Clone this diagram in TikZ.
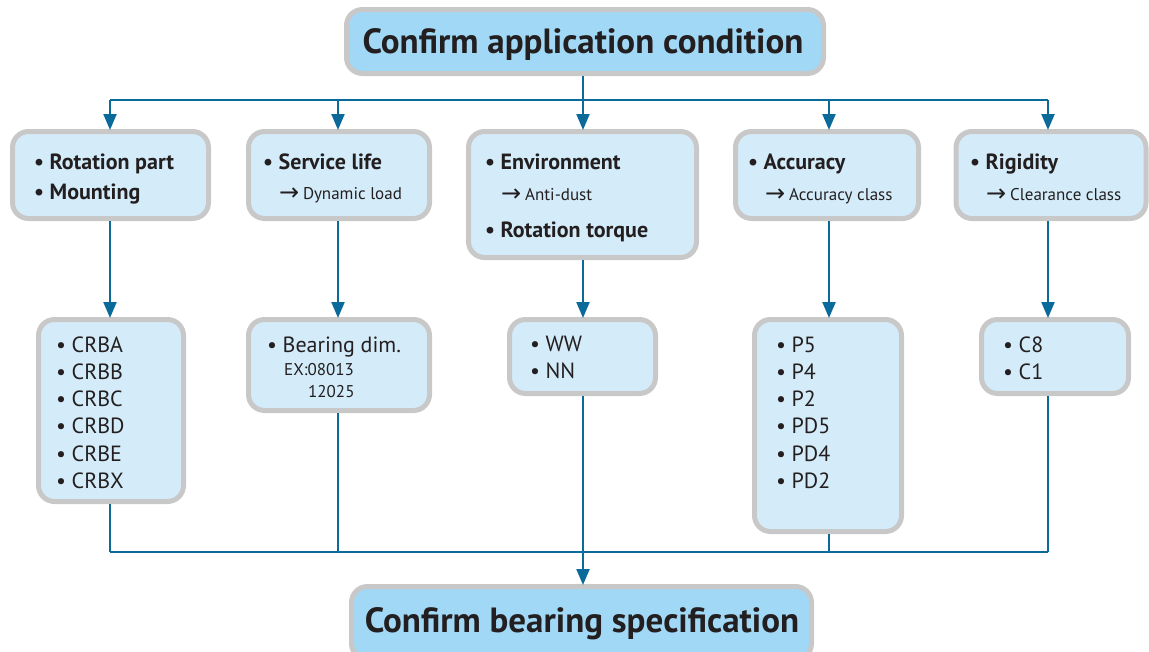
\documentclass[tikz,border=0pt]{standalone}
\usepackage{fontspec}
\setmainfont{PT Sans}
\newfontfamily\arrowfont{DejaVu Sans}
\usetikzlibrary{arrows.meta}
\definecolor{linblue}{HTML}{0A6A99}
\definecolor{boxgray}{HTML}{C8C8C8}
\definecolor{lightfill}{HTML}{D4ECF9}
\definecolor{titlefill}{HTML}{A0D8F5}
\definecolor{txt}{HTML}{231F20}
\newcommand\bl[1]{\makebox[15.5pt][l]{\textbullet}#1}
\newcommand\ar[1]{\makebox[24pt][l]{\raisebox{-1.5pt}{\arrowfont\fontsize{24}{24}\selectfont →}}#1}
\begin{document}
\begin{tikzpicture}[x=1pt,y=-1pt,
 box/.style={draw=boxgray, line width=5pt, rounded corners=16pt, fill=lightfill, inner sep=0pt},
 titlebox/.style={box, fill=titlefill},
 link/.style={draw=linblue, line width=2.2pt},
 arr/.style={link, -{Triangle[width=13pt,length=16pt]}, shorten >=-1pt},
 t/.style={anchor=base west, inner sep=0pt, text=txt, font=\fontsize{22}{24}\selectfont},
 tb/.style={t, font=\fontsize{22}{24}\selectfont\bfseries},
 ts/.style={t, font=\fontsize{17}{19}\selectfont},
 ttl/.style={anchor=base, inner sep=0pt, text=txt, font=\fontsize{35}{38}\selectfont\bfseries}
]
\useasboundingbox (0,0) rectangle (1149,651);
% boxes
\node[titlebox, minimum width=477pt, minimum height=64pt] (top) at (585,41.5) {};
\node[titlebox, minimum width=460pt, minimum height=73pt] (bot) at (581.5,623) {};

\node[box, minimum width=196pt, minimum height=87pt] (r1a) at (110.5,175) {};
\node[box, minimum width=181pt, minimum height=87pt] (r1b) at (339,175) {};
\node[box, minimum width=228pt, minimum height=126pt] (r1c) at (582.5,194.5) {};
\node[box, minimum width=183pt, minimum height=87pt] (r1d) at (827,175) {};
\node[box, minimum width=190pt, minimum height=87pt] (r1e) at (1051,175) {};

\node[box, minimum width=145pt, minimum height=182pt] (r2a) at (111,410.5) {};
\node[box, minimum width=181pt, minimum height=91pt] (r2b) at (339,365) {};
\node[box, minimum width=146pt, minimum height=74pt] (r2c) at (582.5,356.5) {};
\node[box, minimum width=147pt, minimum height=212pt] (r2d) at (828,425.5) {};
\node[box, minimum width=147pt, minimum height=74pt] (r2e) at (1055,356.5) {};

% texts
\node[ttl] (ttop) at (583,53) {Confirm application condition};
\node[ttl] (tbot) at (582,632) {Confirm bearing specification};

\node[tb] (a1) at (34,169) {\bl{Rotation part}};
\node[tb] (a2) at (34,199) {\bl{Mounting}};
\node[tb] (b1) at (263,169) {\bl{Service life}};
\node[ts] (b2) at (279,199) {\ar{Dynamic load}};
\node[tb] (c1) at (485,169) {\bl{Environment}};
\node[ts] (c2) at (501,200) {\ar{Anti-dust}};
\node[tb] (c3) at (485,237) {\bl{Rotation torque}};
\node[tb] (d1) at (748,169) {\bl{Accuracy}};
\node[ts] (d2) at (765,200) {\ar{Accuracy class}};
\node[tb] (e1) at (970,169) {\bl{Rigidity}};
\node[ts] (e2) at (986,200) {\ar{Clearance class}};

\foreach \s/\n [count=\i from 0] in {CRBA/ga,CRBB/gb,CRBC/gc,CRBD/gd,CRBE/ge,CRBX/gf}
  \node[t] (\n) at (56,352+27.3*\i) {\bl{\s}};
\node[t] (h1) at (267,352) {\bl{Bearing dim.}};
\node[ts] (h2) at (284,375) {EX:08013};
\node[ts] (h3) at (308,397) {12025};
\node[t] (k1) at (530,351) {\bl{WW}};
\node[t] (k2) at (530,378) {\bl{NN}};
\foreach \s/\n [count=\i from 0] in {P5/pa,P4/pb,P2/pc,PD5/pd,PD4/pe,PD2/pf}
  \node[t] (\n) at (776,352+27.3*\i) {\bl{\s}};
\node[t] (m1) at (1003,352) {\bl{C8}};
\node[t] (m2) at (1003,379) {\bl{C1}};

% connectors
\coordinate (xa) at (110,0);
\coordinate (xb) at (338,0);
\coordinate (xc) at (583,0);
\coordinate (xd) at (829,0);
\coordinate (xe) at (1048,0);
\coordinate (hy) at (0,100);
\coordinate (ly) at (0,552);

\draw[link] (xc |- top.south) -- (xc |- hy);
\draw[link] (xa |- hy) -- (xe |- hy);
\foreach \x/\b in {xa/r1a,xb/r1b,xc/r1c,xd/r1d,xe/r1e}
  \draw[arr] (\x |- hy) -- (\x |- \b.north);
\draw[arr] (xa |- r1a.south) -- (xa |- r2a.north);
\draw[arr] (xb |- r1b.south) -- (xb |- r2b.north);
\draw[arr] (xc |- r1c.south) -- (xc |- r2c.north);
\draw[arr] (xd |- r1d.south) -- (xd |- r2d.north);
\draw[arr] (xe |- r1e.south) -- (xe |- r2e.north);

\draw[link] (xa |- r2a.south) -- (xa |- ly);
\draw[link] (xb |- r2b.south) -- (xb |- ly);
\draw[link] (xd |- r2d.south) -- (xd |- ly);
\draw[link] (xe |- r2e.south) -- (xe |- ly);
\draw[link] (xa |- ly) -- (xe |- ly);
\draw[arr] (xc |- r2c.south) -- (xc |- bot.north);
\end{tikzpicture}
\end{document}
